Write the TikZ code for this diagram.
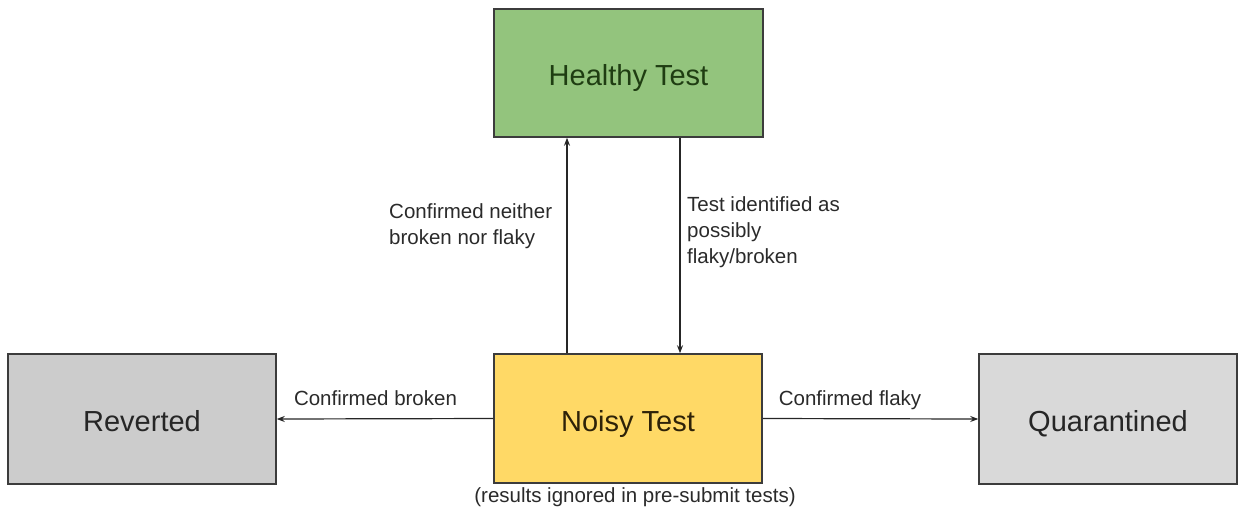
\documentclass[tikz,border=0pt]{standalone}
\usepackage{fontspec}
\setmainfont{Liberation Sans}
\usetikzlibrary{arrows.meta}
\definecolor{hgreen}{HTML}{93C47D}
\definecolor{hgreentext}{HTML}{1F3D12}
\definecolor{nyellow}{HTML}{FFD966}
\definecolor{nyellowtext}{HTML}{2E2208}
\definecolor{rgrey}{HTML}{CCCCCC}
\definecolor{qgrey}{HTML}{D9D9D9}
\definecolor{edge}{HTML}{3C3C3C}
\definecolor{labeltext}{HTML}{2A2A2A}
\tikzset{
  statebox/.style={draw=edge, line width=1.5pt, inner sep=0pt,
    text height=25pt, text depth=0pt,
    font=\fontsize{29}{35}\selectfont, text=black!85},
  conn/.style={draw=black!85, line width=1.2pt, -{Stealth[length=8pt,width=6pt]}},
  lbl/.style={font=\fontsize{20.5}{26}\selectfont, text=labeltext, inner sep=0pt, align=left}
}
\begin{document}
\begin{tikzpicture}[x=1pt,y=-1pt]
\useasboundingbox (0,0) rectangle (1239,512);
\node[statebox, fill=hgreen, text=hgreentext, minimum width=269pt, minimum height=128pt] (healthy) at (628.5,73) {Healthy Test};
\node[statebox, fill=nyellow, text=nyellowtext, minimum width=268pt, minimum height=129pt] (noisy) at (628,418.5) {Noisy Test};
\node[statebox, fill=rgrey, minimum width=268pt, minimum height=130pt] (reverted) at (142,419) {Reverted};
\node[statebox, fill=qgrey, minimum width=258pt, minimum height=130pt] (quar) at (1108,419) {Quarantined};

\coordinate (upx) at (567,0);
\coordinate (downx) at (680,0);

\draw[conn] (noisy.north -| upx) -- (healthy.south -| upx);
\draw[conn] (healthy.south -| downx) -- (noisy.north -| downx);
\draw[conn] (noisy.west) -- (reverted.east);
\draw[conn] (noisy.east) -- (quar.west);

\node[lbl, anchor=west] (lup) at (389,226) {Confirmed neither\\broken nor flaky};
\node[lbl, anchor=west] (ldown) at (687,232) {Test identified as\\possibly\\flaky/broken};
\node[lbl] (lbroken) at (375.5,398) {Confirmed broken};
\node[lbl] (lflaky) at (850,400) {Confirmed flaky};
\node[lbl] (lnote) at (635,497) {(results ignored in pre-submit tests)};
\end{tikzpicture}
\end{document}
